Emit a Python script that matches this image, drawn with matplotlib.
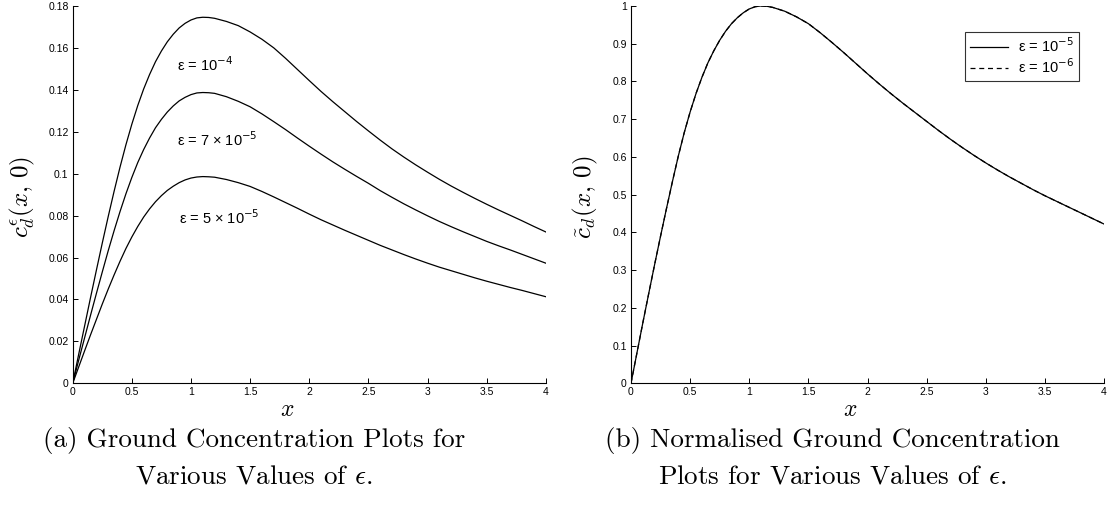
import numpy as np
import matplotlib
matplotlib.use('Agg')
from matplotlib import pyplot as plt
from matplotlib.ticker import FuncFormatter

plt.rcParams['mathtext.fontset'] = 'cm'
plt.rcParams['font.family'] = ['Liberation Sans', 'DejaVu Sans']

x_pts = [0, 0.05, 0.1, 0.15, 0.2, 0.25, 0.3, 0.35, 0.4, 0.45, 0.5, 0.55, 0.6,
         0.65, 0.7, 0.75, 0.8, 0.85, 0.9, 0.95, 1.0, 1.05, 1.1, 1.15, 1.2,
         1.3, 1.4, 1.5, 1.6, 1.7, 1.8, 1.9, 2.0, 2.1, 2.2, 2.3, 2.4, 2.5,
         2.6, 2.7, 2.8, 2.9, 3.0, 3.1, 3.2, 3.3, 3.4, 3.5, 3.6, 3.7, 3.8,
         3.9, 4.0]

# (a) ground concentration, eps = 1e-4, 7e-5, 5e-5
c_eps_1e4 = [0, 0.0137, 0.0272, 0.0407, 0.0539, 0.0669, 0.0795, 0.0916, 0.1031,
             0.1138, 0.1236, 0.1325, 0.1404, 0.1473, 0.1534, 0.1585, 0.1629,
             0.1665, 0.1695, 0.1717, 0.1733, 0.1743, 0.1746, 0.1745, 0.1741,
             0.1726, 0.1706, 0.1676, 0.1641, 0.1600, 0.1550, 0.1497, 0.1444,
             0.1392, 0.1343, 0.1296, 0.1249, 0.1204, 0.1160, 0.1118, 0.1079,
             0.1042, 0.1007, 0.0973, 0.0941, 0.0911, 0.0882, 0.0854, 0.0827,
             0.0801, 0.0775, 0.0748, 0.0722]
c_eps_7e5 = [0, 0.0109, 0.0216, 0.0323, 0.0428, 0.0531, 0.0632, 0.0728, 0.0819,
             0.0904, 0.0982, 0.1053, 0.1115, 0.1170, 0.1219, 0.1259, 0.1294,
             0.1323, 0.1347, 0.1364, 0.1377, 0.1385, 0.1387, 0.1386, 0.1383,
             0.1367, 0.1345, 0.1319, 0.1285, 0.1248, 0.1210, 0.1170, 0.1131,
             0.1093, 0.1056, 0.1021, 0.0987, 0.0954, 0.0919, 0.0887, 0.0856,
             0.0827, 0.0799, 0.0772, 0.0747, 0.0723, 0.0700, 0.0677, 0.0656,
             0.0636, 0.0615, 0.0594, 0.0573]
c_eps_5e5 = [0, 0.0077, 0.0154, 0.0230, 0.0304, 0.0378, 0.0449, 0.0517, 0.0582,
             0.0643, 0.0698, 0.0748, 0.0793, 0.0832, 0.0866, 0.0895, 0.0920,
             0.0940, 0.0957, 0.0970, 0.0979, 0.0984, 0.0986, 0.0985, 0.0983,
             0.0972, 0.0957, 0.0939, 0.0915, 0.0889, 0.0862, 0.0835, 0.0807,
             0.0780, 0.0755, 0.0730, 0.0706, 0.0682, 0.0658, 0.0636, 0.0614,
             0.0593, 0.0573, 0.0554, 0.0537, 0.0520, 0.0503, 0.0487, 0.0472,
             0.0457, 0.0443, 0.0428, 0.0413]

# (b) normalised curves, the two eps values lie on top of each other
norm_eps_1e5 = [0, 0.080, 0.160, 0.238, 0.315, 0.390, 0.463, 0.534, 0.602,
                0.664, 0.719, 0.768, 0.811, 0.849, 0.881, 0.909, 0.933, 0.953,
                0.969, 0.982, 0.992, 0.998, 1.000, 0.999, 0.996, 0.986, 0.971,
                0.953, 0.929, 0.903, 0.876, 0.848, 0.820, 0.793, 0.767, 0.742,
                0.718, 0.694, 0.670, 0.647, 0.625, 0.604, 0.584, 0.565, 0.547,
                0.530, 0.513, 0.497, 0.482, 0.467, 0.452, 0.437, 0.422]
norm_eps_1e6 = list(norm_eps_1e5)

left_labels = ['ε = 10$^{-4}$', 'ε = 7 × 10$^{-5}$', 'ε = 5 × 10$^{-5}$']
legend_labels = ['ε = 10$^{-5}$', 'ε = 10$^{-6}$']
left_yticks = [0, 0.02, 0.04, 0.06, 0.08, 0.1, 0.12, 0.14, 0.16, 0.18]
right_yticks = [0, 0.1, 0.2, 0.3, 0.4, 0.5, 0.6, 0.7, 0.8, 0.9, 1]
xticks = [0, 0.5, 1, 1.5, 2, 2.5, 3, 3.5, 4]

fig = plt.figure(figsize=(11.17, 5.12), dpi=100)
ax1 = fig.add_axes([0.0651, 0.2514, 0.4235, 0.737])
ax2 = fig.add_axes([0.5649, 0.2514, 0.4235, 0.737])

fmt = FuncFormatter(lambda v, p: '%g' % v)
for ax in (ax1, ax2):
    ax.spines['top'].set_visible(False)
    ax.spines['right'].set_visible(False)
    for s in ('left', 'bottom'):
        ax.spines[s].set_linewidth(0.8)
    ax.tick_params(direction='in', length=3.5, width=0.7, labelsize=7.5, pad=3)
    ax.set_xlim(0, 4)
    ax.set_xticks(xticks)
    ax.xaxis.set_major_formatter(fmt)
    ax.yaxis.set_major_formatter(fmt)

ax1.plot(x_pts, c_eps_1e4, color='k', lw=0.9)
ax1.plot(x_pts, c_eps_7e5, color='k', lw=0.9)
ax1.plot(x_pts, c_eps_5e5, color='k', lw=0.9)
ax1.set_ylim(0, 0.18)
ax1.set_yticks(left_yticks)

txt = dict(fontsize=10.5, va='center', math_fontfamily='dejavusans')
ax1.text(0.88, 0.152, left_labels[0], **txt)
ax1.text(0.88, 0.116, left_labels[1], **txt)
ax1.text(0.90, 0.079, left_labels[2], **txt)

ax2.plot(x_pts, norm_eps_1e5, color='k', lw=0.9, label=legend_labels[0])
ax2.plot(x_pts, norm_eps_1e6, color='k', lw=0.9, ls=(0, (4, 3)), label=legend_labels[1])
ax2.set_ylim(0, 1)
ax2.set_yticks(right_yticks)
leg = ax2.legend(loc='upper right', bbox_to_anchor=(0.947, 0.932), borderaxespad=0,
                 fancybox=False, edgecolor='k', handlelength=2.6,
                 borderpad=0.35, labelspacing=0.15, handletextpad=0.7,
                 prop={'size': 10.5, 'math_fontfamily': 'dejavusans'})
leg.get_frame().set_linewidth(0.8)

# axis labels
fig.text(287 / 1117, 1 - 416 / 512, '$x$', fontsize=17, ha='center', va='baseline')
fig.text(850 / 1117, 1 - 416 / 512, '$x$', fontsize=17, ha='center', va='baseline')
fig.text(22 / 1117, 1 - 197 / 512, r'$c_d^{\epsilon}(x,\,0)$', fontsize=18,
         rotation=90, ha='center', va='center')
fig.text(585 / 1117, 1 - 197 / 512, r'$\tilde{c}_d(x,\,0)$', fontsize=18,
         rotation=90, ha='center', va='center')

# captions
cap = dict(family='cmr10', fontsize=19.5, ha='center', va='baseline')
fig.text(254 / 1117, 1 - 447 / 512, '(a) Ground Concentration Plots for', **cap)
fig.text(254 / 1117, 1 - 484 / 512, r'Various Values of $\epsilon$.', **cap)
fig.text(832 / 1117, 1 - 447 / 512, '(b) Normalised Ground Concentration', **cap)
fig.text(832 / 1117, 1 - 484 / 512, r'Plots for Various Values of $\epsilon$.', **cap)

fig.savefig('out.png', dpi=100)
